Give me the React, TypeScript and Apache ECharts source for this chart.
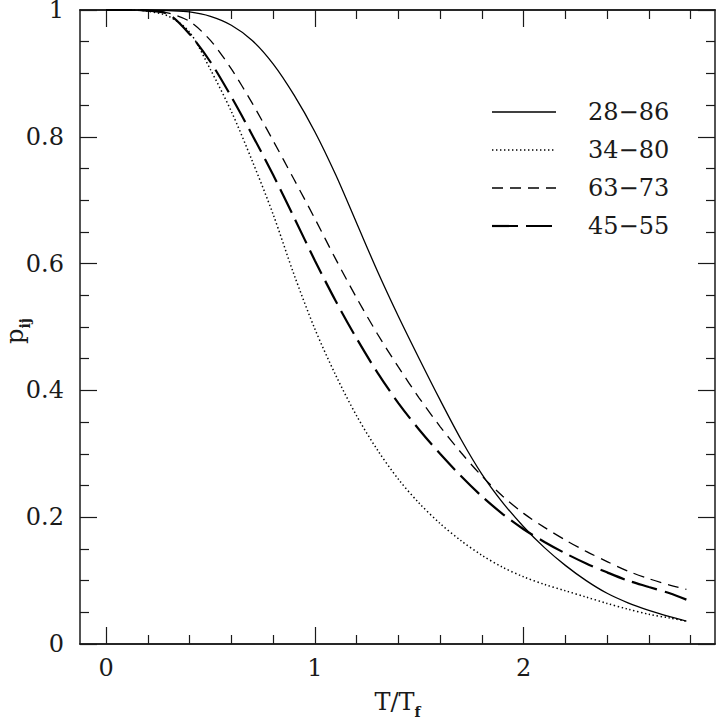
import React, { useEffect, useRef } from "react";
import * as echarts from "echarts";

const tValues = [0, 0.1, 0.2, 0.3, 0.4, 0.5, 0.6, 0.7, 0.8, 0.9, 1.0, 1.1, 1.2, 1.3, 1.4, 1.5, 1.6, 1.7, 1.8, 1.9, 2.0, 2.1, 2.2, 2.3, 2.4, 2.5, 2.6, 2.7, 2.78];

const p2886 = [1, 1, 1, 0.999, 0.997, 0.99, 0.976, 0.952, 0.915, 0.866, 0.808, 0.74, 0.664, 0.588, 0.517, 0.45, 0.385, 0.323, 0.268, 0.223, 0.185, 0.152, 0.124, 0.1, 0.08, 0.065, 0.053, 0.043, 0.036];
const p3480 = [1, 1, 0.998, 0.99, 0.965, 0.906, 0.84, 0.762, 0.678, 0.583, 0.497, 0.424, 0.36, 0.306, 0.26, 0.222, 0.19, 0.163, 0.14, 0.121, 0.106, 0.094, 0.084, 0.074, 0.064, 0.055, 0.047, 0.041, 0.036];
const p6373 = [1, 1, 0.999, 0.995, 0.982, 0.952, 0.907, 0.853, 0.794, 0.733, 0.671, 0.607, 0.546, 0.489, 0.437, 0.388, 0.343, 0.302, 0.265, 0.233, 0.206, 0.184, 0.164, 0.146, 0.13, 0.115, 0.103, 0.093, 0.086];
const p4555 = [1, 1, 0.999, 0.993, 0.962, 0.918, 0.863, 0.803, 0.74, 0.673, 0.605, 0.541, 0.482, 0.428, 0.38, 0.338, 0.3, 0.265, 0.233, 0.205, 0.181, 0.161, 0.143, 0.127, 0.113, 0.1, 0.09, 0.08, 0.07];

const seriesNames = ["28\u221286", "34\u221280", "63\u221273", "45\u221255"];

const xMajor = [0, 1, 2];
const xMinor = [0.2, 0.4, 0.6, 0.8, 1.2, 1.4, 1.6, 1.8, 2.2, 2.4, 2.6, 2.8];
const yTickStep = 0.2;

const FONT = "DejaVu Serif";
const INK = "#1a1a1a";

export default function App() {
  const ref = useRef<HTMLDivElement>(null);
  useEffect(() => {
    if (!ref.current) return;
    const chart = echarts.init(ref.current, undefined, { renderer: "svg" });
    const grid = { left: 80, top: 10, width: 635, height: 634, outerBoundsMode: "none", containLabel: false };
    const xMin = -0.125;
    const xMax = 2.917;
    const axisLine = { show: true, onZero: false, lineStyle: { color: INK, width: 1.5 } };
    const subRich = { sub: { fontFamily: FONT, fontSize: 14, fontWeight: "bold", color: INK, verticalAlign: "bottom", lineHeight: 14 } };
    const mkX = (pos: "top" | "bottom", vals: number[], len: number, labels: boolean, name?: boolean) => ({
      type: "value",
      position: pos,
      min: xMin,
      max: xMax,
      axisLine,
      splitLine: { show: false },
      axisTick: { show: true, inside: true, length: len, customValues: vals, lineStyle: { color: INK, width: 1.2 } },
      axisLabel: labels
        ? { show: true, customValues: xMajor, margin: 12, fontFamily: FONT, fontSize: 24, color: INK }
        : { show: false },
      name: name ? "T/T{sub|f}" : "",
      nameLocation: "middle",
      nameGap: 39,
      nameTextStyle: { fontFamily: FONT, fontSize: 24, color: INK, lineHeight: 34, rich: subRich },
    });
    const mkY = (pos: "left" | "right", labels: boolean) => ({
      type: "value",
      position: pos,
      min: 0,
      max: 1,
      interval: yTickStep,
      axisLine,
      splitLine: { show: false },
      axisTick: { show: true, inside: true, length: 17, lineStyle: { color: INK, width: 1.2 } },
      minorTick: { show: true, splitNumber: 4, length: 9, lineStyle: { color: INK, width: 1.2 } },
      minorSplitLine: { show: false },
      axisLabel: labels
        ? { show: true, margin: 16, fontFamily: FONT, fontSize: 24, color: INK, formatter: (v: number) => String(+v.toFixed(1)) }
        : { show: false },
    });
    const styles = [
      { type: "solid", width: 1.3, dash: null as number[] | null },
      { type: [1.4, 2.6], width: 1.5, dash: [1.4, 2.6] },
      { type: [11, 7], width: 1.3, dash: [11, 7] },
      { type: [26, 8], width: 2.2, dash: [26, 8] },
    ];
    const datasets = [p2886, p3480, p6373, p4555];
    const legendX = 492;
    const legendTop = 112;
    const legendStep = 38;
    const graphics: any[] = [];
    seriesNames.forEach((n, i) => {
      const y = legendTop + i * legendStep;
      graphics.push({
        type: "line",
        shape: { x1: legendX, y1: y, x2: legendX + 64, y2: y },
        style: { stroke: "#000", lineWidth: styles[i].width, lineDash: styles[i].dash || undefined },
        silent: true,
      });
      graphics.push({
        type: "text",
        x: 588,
        y,
        style: { text: n, fontFamily: FONT, fontSize: 24, fill: INK, verticalAlign: "middle", align: "left" },
        silent: true,
      });
    });
    graphics.push({
      type: "text",
      x: 15,
      y: 331,
      rotation: Math.PI / 2,
      style: {
        text: "p{sub|ij}",
        fontFamily: FONT,
        fontSize: 24,
        fill: INK,
        lineHeight: 34,
        align: "center",
        verticalAlign: "middle",
        rich: { sub: { fontFamily: FONT, fontSize: 14, fontWeight: "bold", fill: INK, verticalAlign: "bottom", lineHeight: 14 } },
      },
      silent: true,
    });
    chart.setOption({
      animation: false,
      backgroundColor: "#fff",
      grid,
      xAxis: [
        mkX("bottom", xMajor, 17, true, true),
        mkX("bottom", xMinor, 9, false),
        mkX("top", xMajor, 17, false),
        mkX("top", xMinor, 9, false),
      ],
      yAxis: [mkY("left", true), mkY("right", false)],
      graphic: graphics,
      series: seriesNames.map((n, i) => ({
        name: n,
        type: "line",
        xAxisIndex: 0,
        yAxisIndex: 0,
        symbol: "none",
        smooth: 0.3,
        data: tValues.map((t, k) => [t, datasets[i][k]]),
        lineStyle: { color: "#000", type: styles[i].type, width: styles[i].width },
        itemStyle: { color: "#000" },
      })),
    });
    return () => chart.dispose();
  }, []);
  return <div ref={ref} style={{ position: "fixed", left: 0, top: 0, width: 717, height: 720, background: "#fff" }} />;
}
